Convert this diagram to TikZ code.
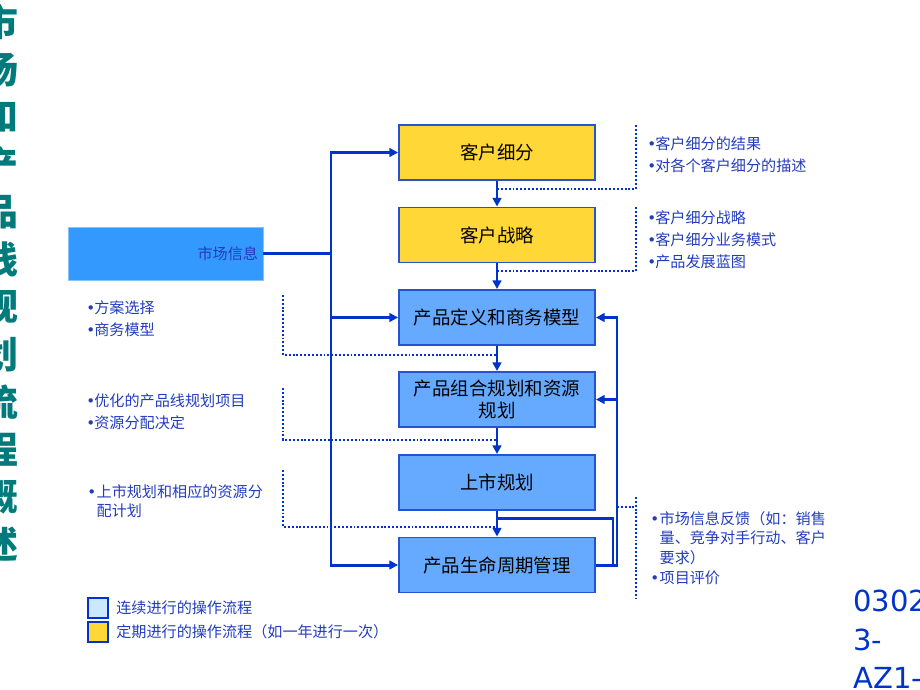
\documentclass[tikz,border=0pt]{standalone}
\usepackage{fontspec}
\setmainfont{Noto Sans CJK SC}
\newfontfamily\latinfont{DejaVu Sans}
\usetikzlibrary{arrows.meta, positioning, calc}
\definecolor{flowblue}{RGB}{0, 51, 204}
\definecolor{textblue}{RGB}{35, 60, 190}
\definecolor{boxblue}{RGB}{102, 170, 255}
\definecolor{boxyellow}{RGB}{255, 215, 55}
\definecolor{infoblue}{RGB}{51, 153, 255}
\definecolor{paleblue}{RGB}{204, 232, 255}
\definecolor{titleteal}{RGB}{0, 122, 122}
\newcommand{\blt}{\makebox[4pt][c]{\latinfont •}}
\newcommand{\bltw}{\makebox[5.3pt][l]{\latinfont •}}

\begin{document}
\begin{tikzpicture}[x=0.02cm, y=-0.02cm,
  procbox/.style={draw=flowblue!85!white, line width=1.1pt, fill=boxblue, minimum width=3.92cm, minimum height=1.1cm, inner sep=0pt, align=center, font=\fontsize{10.5}{12.5}\selectfont},
  periodbox/.style={procbox, fill=boxyellow},
  flow/.style={draw=flowblue, line width=1.7pt},
  flowarrow/.style={flow, -{Triangle[length=5pt, width=5pt]}},
  noteline/.style={draw=flowblue, line width=1.1pt, dash pattern=on 1.1pt off 1.1pt},
  note/.style={anchor=west, align=left, text=textblue, inner sep=0pt, font=\fontsize{8.6}{12.5}\selectfont},
  legendbox/.style={draw=flowblue, line width=1.1pt, minimum size=0.4cm, inner sep=0pt}]
  \useasboundingbox (0,0) rectangle (920,690);
  \clip (0,0) rectangle (920,690);

  % title, one character per line
  \foreach \ch [count=\i from 0] in {市,场,和,产,品,线,规,划,流,程,概,述}
    \node[text=titleteal, font=\fontsize{21}{21}\selectfont\bfseries] (title\i) at (0, {22+47.5*\i}) {\ch};

  % market input
  \node[fill=infoblue, draw=infoblue!60!white, minimum width=3.9cm, minimum height=1.06cm, text width=3.7cm, align=right, inner sep=0pt, text=textblue, font=\fontsize{8.6}{10}\selectfont] (mkt) at (165.5,253.5) {市场信息};

  % process steps
  \node[periodbox] (seg) at (497,152.5) {客户细分};
  \node[periodbox] (strat) at (497,235) {客户战略};
  \node[procbox] (pdef) at (497,317.5) {产品定义和商务模型};
  \node[procbox] (pport) at (497,399.5) {产品组合规划和资源\\规划};
  \node[procbox] (launch) at (497,482.5) {上市规划};
  \node[procbox] (plm) at (497,565) {产品生命周期管理};

  \foreach \a/\b in {seg/strat, strat/pdef, pdef/pport, pport/launch, launch/plm}
    \draw[flowarrow] (\a) -- (\b);

  % market information bus
  \coordinate (bus) at (331,253.5);
  \draw[flow] (mkt) -- (bus);
  \draw[flowarrow] (bus) |- (seg);
  \draw[flowarrow] (bus) |- (pdef);
  \draw[flowarrow] (bus) |- (plm);

  % feedback loop
  \coordinate (loop) at (617,565);
  \coordinate (loopin) at (613,565);
  \coordinate (tap) at (497,518);
  \draw[flowarrow] (plm.east) -- (loop) |- (pdef.east);
  \draw[flowarrow] (pport.east -| loop) -- (pport.east);
  \draw[flow] (tap) -| (loopin);

  % dotted brackets to the notes
  \coordinate (segnote) at (636,125);
  \coordinate (segtap) at (497,189);
  \coordinate (stratnote) at (636,207);
  \coordinate (strattap) at (497,271);
  \coordinate (defnote) at (283,295);
  \coordinate (deftap) at (497,355);
  \coordinate (portnote) at (283,388);
  \coordinate (porttap) at (497,440);
  \coordinate (launchnote) at (283,470);
  \coordinate (launchtap) at (497,527);
  \coordinate (fbnote) at (636,497);
  \coordinate (fbend) at (636,598);
  \coordinate (fbtap) at (617,507);
  \draw[noteline] (segnote) |- (segtap);
  \draw[noteline] (stratnote) |- (strattap);
  \draw[noteline] (defnote) |- (deftap);
  \draw[noteline] (portnote) |- (porttap);
  \draw[noteline] (launchnote) |- (launchtap);
  \draw[noteline] (fbnote) -- (fbend);
  \draw[noteline] (fbtap) -- (fbtap -| fbnote);

  % notes
  \node[note] (segtext) at (648,155) {\blt 客户细分的结果\\\blt 对各个客户细分的描述};
  \node[note] (strattext) at (648,239.5) {\blt 客户细分战略\\\blt 客户细分业务模式\\\blt 产品发展蓝图};
  \node[note] (deftext) at (87,319) {\blt 方案选择\\\blt 商务模型};
  \node[note] (porttext) at (87,412) {\blt 优化的产品线规划项目\\\blt 资源分配决定};
  \node[note, font=\fontsize{8.6}{10.5}\selectfont] (launchtext) at (87,501) {\bltw 上市规划和相应的资源分\\\hspace*{5.3pt}配计划};
  \node[note, font=\fontsize{8.6}{11.3}\selectfont] (fbtext) at (650,548) {\bltw 市场信息反馈（如：销售\\\hspace*{5.3pt}量、竞争对手行动、客户\\\hspace*{5.3pt}要求）\\\bltw 项目评价};

  % legend
  \node[legendbox, fill=paleblue] (contkey) at (98,608) {};
  \node[legendbox, fill=boxyellow] (periodkey) at (98,632) {};
  \node[note, right=0.14cm of contkey] (conttext) {连续进行的操作流程};
  \node[note, right=0.14cm of periodkey] (periodtext) {定期进行的操作流程（如一年进行一次）};

  % document code
  \node[anchor=north west, align=left, inner sep=0pt, text=flowblue, font=\latinfont\fontsize{16.5}{21.8}\selectfont] (docid) at (853,590) {0302\\3-\\AZ1-};
\end{tikzpicture}
\end{document}
